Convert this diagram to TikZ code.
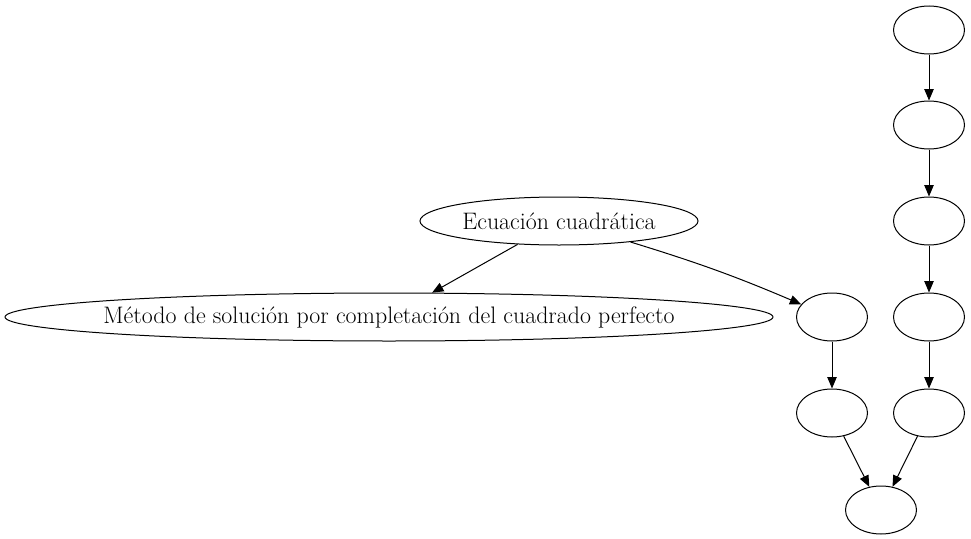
\documentclass[tikz,border=0pt]{standalone}
\usetikzlibrary{shapes.geometric,arrows.meta}
\begin{document}
\begin{tikzpicture}[x=0.75pt,y=-0.75pt,
  nd/.style={draw,ellipse,inner sep=0pt,line width=0.75pt,minimum width=53.25pt,minimum height=36pt},
  lbl/.style={inner sep=0pt,font=\fontsize{17.9pt}{20pt}\selectfont},
  edge/.style={draw,line width=0.75pt,-{Triangle[length=8.5pt,width=7pt]}}]
\useasboundingbox (0,0) rectangle (971,539);
\node[nd,minimum width=208.5pt] (a) at (559,221) {};
\node[lbl] (alabel) at (a) {Ecuación cuadrática};
\node[nd,minimum width=576pt] (b) at (389,317) {};
\node[lbl] (blabel) at (b) {Método de solución por completación del cuadrado perfecto};
\node[nd] (c) at (832,317) {};
\node[nd] (d) at (832,413) {};
\node[nd] (e) at (881,510) {};
\node[nd] (f1) at (929,30) {};
\node[nd] (f2) at (929,125) {};
\node[nd] (f3) at (929,221) {};
\node[nd] (f4) at (929,317) {};
\node[nd] (f5) at (929,413) {};
\draw[edge] (a) -- (b);
\draw[edge] (a) to[bend left=3] (c);
\draw[edge] (c) -- (d);
\draw[edge] (d) -- (e);
\draw[edge] (f1) -- (f2);
\draw[edge] (f2) -- (f3);
\draw[edge] (f3) -- (f4);
\draw[edge] (f4) -- (f5);
\draw[edge] (f5) -- (e);
\end{tikzpicture}
\end{document}
